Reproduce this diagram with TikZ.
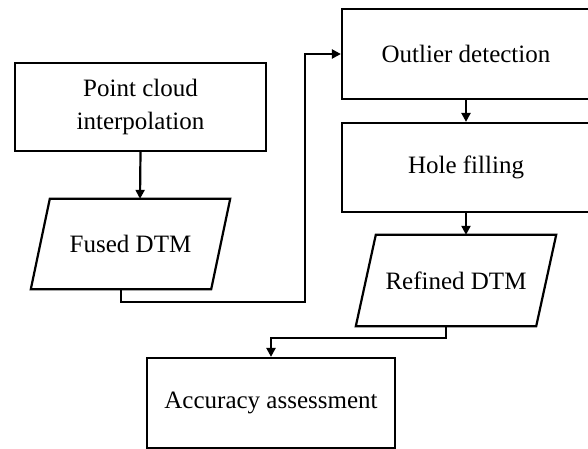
\documentclass[tikz,border=0pt]{standalone}
\usepackage{fontspec}
\setmainfont{Liberation Serif}
\usetikzlibrary{arrows.meta,positioning,calc}

\begin{document}
\begin{tikzpicture}[
    x=1pt, y=-1pt,
    font=\fontsize{25}{33}\selectfont,
    box/.style={rectangle, draw, line width=2.2pt, minimum width=248pt, minimum height=90pt, align=center},
    io/.style={rectangle, minimum width=180pt, minimum height=90pt, align=center},
    ioline/.style={line width=2.2pt, line join=miter},
    connection/.style={-{Triangle[length=9pt,width=9pt]}, line width=2.2pt}
]
\clip (0,0) rectangle (588,448);

% Left column
\node[box, minimum width=251pt, minimum height=88pt] (cloud) at (140.5,107) {Point cloud\\interpolation};
\node[io] (fused) at (130.5,244) {Fused DTM};

% Right column (boxes run past the edge)
\node[box] (outlier) at (466,54) {Outlier detection};
\node[box, minimum height=89pt] (hole) at (466,167.5) {Hole filling};
\node[io, minimum height=91pt] (refined) at (456,280.5) {Refined DTM};

% Bottom
\node[box] (accuracy) at (271,403) {Accuracy assessment};

% Slanted data frames
\draw[ioline] ([xshift=9.5pt]fused.north west) -- ([xshift=9.5pt]fused.north east)
    -- ([xshift=-9.5pt]fused.south east) -- ([xshift=-9.5pt]fused.south west) -- cycle;
\draw[ioline] ([xshift=10pt]refined.north west) -- ([xshift=10pt]refined.north east)
    -- ([xshift=-10pt]refined.south east) -- ([xshift=-10pt]refined.south west) -- cycle;

% Connections
\draw[connection] (cloud.south) -- ([xshift=9.5pt]fused.north);
\draw[connection] ([xshift=-9.5pt]fused.south) -- ++(0,13) -| ([xshift=-36pt]outlier.west) -- (outlier.west);
\draw[connection] (outlier.south) -- (hole.north);
\draw[connection] (hole.south) -- ([xshift=10pt]refined.north);
\draw[connection] ([xshift=-10pt]refined.south) -- ++(0,12) -| (accuracy.north);

\end{tikzpicture}
\end{document}
